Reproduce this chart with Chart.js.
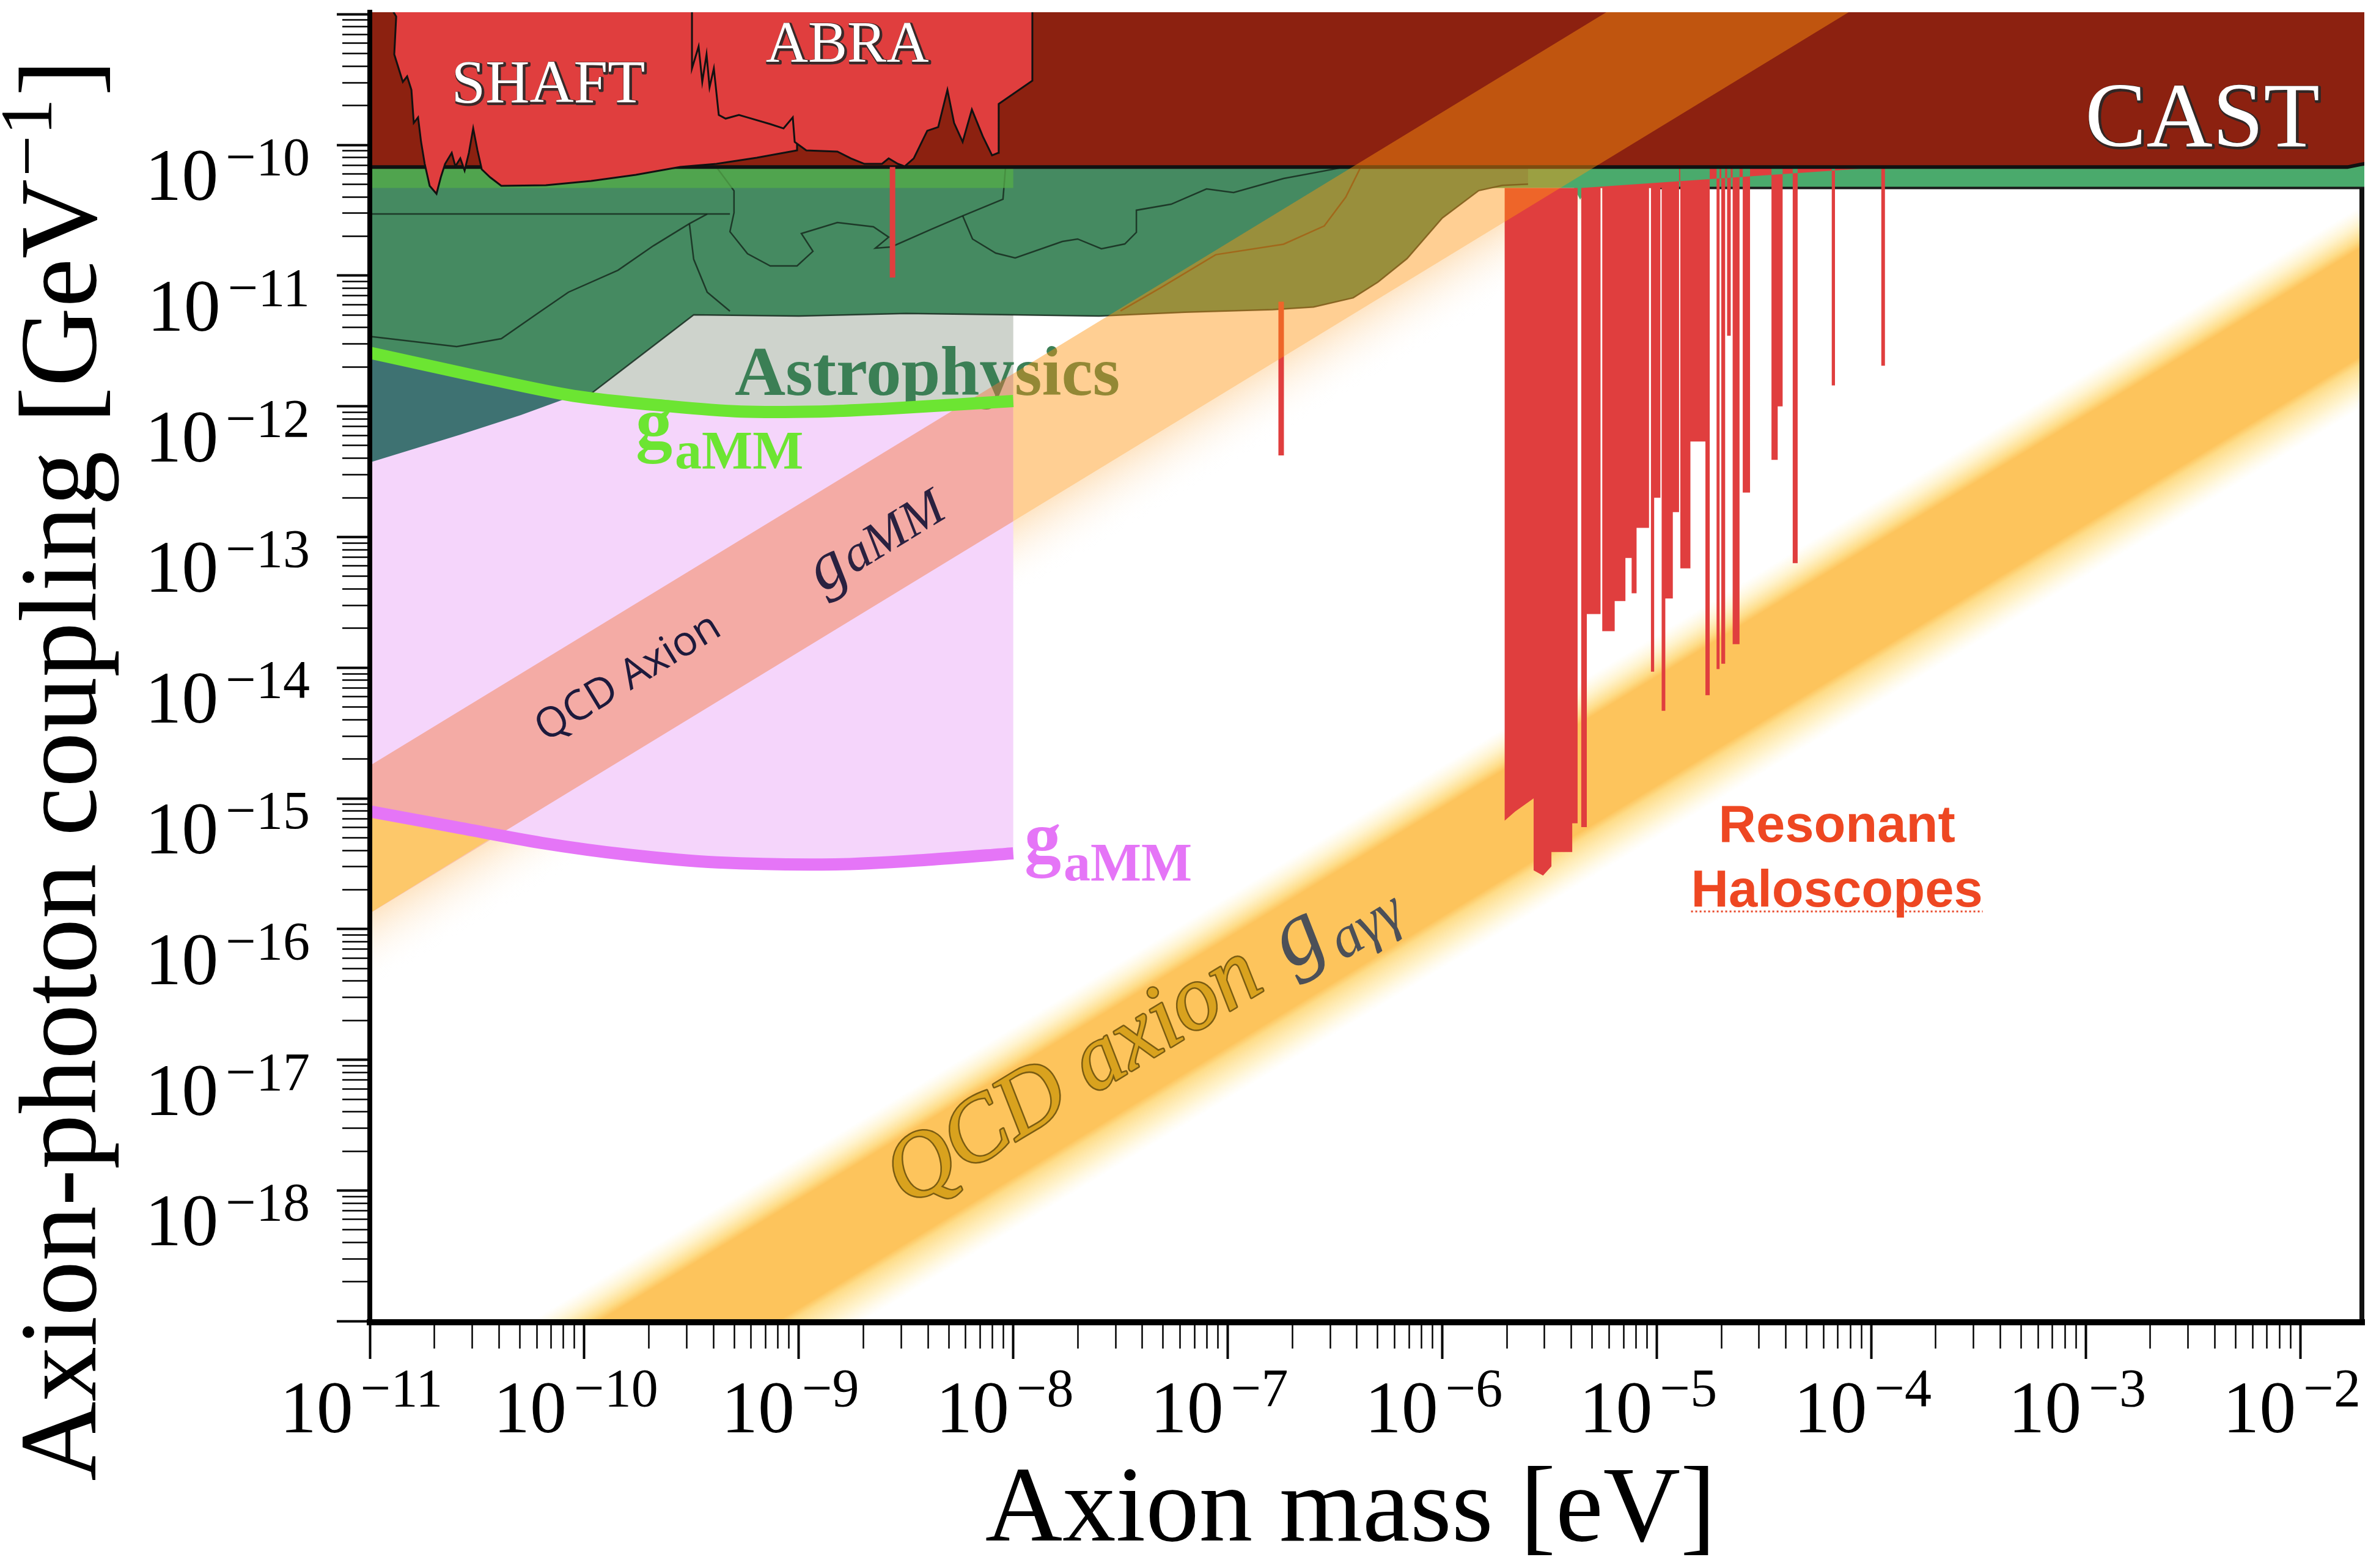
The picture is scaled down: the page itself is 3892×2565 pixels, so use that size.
<!DOCTYPE html>
<html>
<head>
<meta charset="utf-8">
<script src="https://cdn.jsdelivr.net/npm/chart.js@4/dist/chart.umd.min.js"></script>
<style>
  html, body { margin: 0; padding: 0; background: #fff; }
  #wrap { width: 3892px; height: 2565px; }
</style>
</head>
<body>
<div id="wrap"><canvas id="axionPlot"></canvas></div>
<script>
// every value below is log10 (mass in eV, coupling in GeV^-1)

const massRange = [-11, -1.701]
const couplingRange = [-19.008, -8.985]
const massTickExponents = [-11, -10, -9, -8, -7, -6, -5, -4, -3, -2]
const couplingTickExponents = [-10, -11, -12, -13, -14, -15, -16, -17, -18]

const castLimit = -10.17
const stripLimit = -10.33

// QCD axion bands, log10(g / m)
const goldBandRatios = [-8.75, -9.07, -9.90, -10.30]
const amBandRatios = [-3.75, -4.88, -5.45]

const greenLine = [[-11, -11.59], [-10.5, -11.77], [-10.05, -11.92], [-9.6, -12.0], [-9.27, -12.04], [-8.9, -12.04], [-8.61, -12.02], [-8.3, -11.99], [-8, -11.96]]
const magentaLine = [[-11, -15.10], [-10.6, -15.22], [-10.2, -15.34], [-9.8, -15.43], [-9.38, -15.49], [-8.83, -15.505], [-8.4, -15.47], [-8, -15.42]]

const tealEdge = [[-10.05, -11.92], [-10.296, -12.067], [-10.578, -12.217], [-11, -12.43], [-11.2, -12.53]]
const greyArea = [[-9.99, -11.94], [-9.49, -11.30], [-8, -11.29], [-8, -12.0], [-8.61, -12.05], [-9.27, -12.07], [-9.6, -12.03]]
// part of the g_aMM band left under the magenta curve
const goldCorner = [[-11.2, -15.06], [-11, -15.10], [-10.6, -15.22], [-10.42, -15.29], [-11.2, -16.08]]

const astroEdge = [[-11.2, -11.52], [-11, -11.59], [-10.5, -11.77], [-10.05, -11.92], [-9.99, -11.93], [-9.49, -11.30], [-9.0, -11.31], [-8.5, -11.29], [-8.0, -11.30], [-7.6, -11.31], [-7.2, -11.28], [-6.79, -11.26], [-6.6, -11.24], [-6.415, -11.17], [-6.3, -11.05], [-6.164, -10.87], [-6.0, -10.56], [-5.83, -10.35], [-5.72, -10.31], [-5.6, -10.30]]

const contourA = [[-11.2, -10.529], [-9.321, -10.529]]
const contourB = [[-9.384, -10.17], [-9.302, -10.351], [-9.302, -10.519], [-9.321, -10.664], [-9.239, -10.833], [-9.133, -10.926], [-9.008, -10.926], [-8.934, -10.814], [-8.988, -10.678], [-8.820, -10.594], [-8.652, -10.627], [-8.581, -10.706], [-8.643, -10.790], [-8.569, -10.781], [-8.381, -10.645], [-8.236, -10.543], [-8.048, -10.416], [-8.036, -10.17]]
const contourC = [[-11.2, -11.43], [-10.983, -11.469], [-10.595, -11.543], [-10.387, -11.483], [-10.219, -11.291], [-10.074, -11.127], [-9.843, -10.959], [-9.678, -10.772], [-9.510, -10.603], [-9.427, -10.529]]
const contourD = [[-9.510, -10.603], [-9.490, -10.875], [-9.427, -11.127], [-9.321, -11.272]]
const contourE = [[-8.236, -10.543], [-8.19, -10.72], [-8.082, -10.828], [-7.991, -10.865], [-7.771, -10.739], [-7.700, -10.720], [-7.589, -10.795], [-7.480, -10.758], [-7.426, -10.669], [-7.426, -10.500], [-7.264, -10.454], [-7.099, -10.337], [-6.973, -10.365], [-6.740, -10.257], [-6.455, -10.17]]
const contourF = [[-7.5, -11.27], [-7.31, -11.09], [-7.056, -10.84], [-6.74, -10.76], [-6.55, -10.62], [-6.45, -10.40], [-6.38, -10.17]]

const shaftEdge = [[-10.889, -8.9], [-10.889, -8.985], [-10.877, -9.018], [-10.886, -9.308], [-10.846, -9.518], [-10.826, -9.476], [-10.806, -9.579], [-10.795, -9.832], [-10.775, -9.790], [-10.761, -9.977], [-10.744, -10.145], [-10.721, -10.313], [-10.689, -10.374], [-10.669, -10.248], [-10.649, -10.145], [-10.618, -10.061], [-10.601, -10.164], [-10.578, -10.103], [-10.558, -10.196], [-10.538, -10.061], [-10.518, -9.874], [-10.498, -10.042], [-10.478, -10.187], [-10.439, -10.248], [-10.387, -10.313], [-10.179, -10.309], [-9.968, -10.276], [-9.760, -10.229], [-9.552, -10.168], [-9.384, -10.145], [-9.196, -10.098], [-9.008, -10.042], [-9.008, -8.9]]
const abraEdge = [[-9.498, -8.9], [-9.498, -9.415], [-9.467, -9.247], [-9.450, -9.518], [-9.430, -9.308], [-9.416, -9.560], [-9.396, -9.415], [-9.373, -9.771], [-9.341, -9.799], [-9.279, -9.771], [-9.239, -9.790], [-9.133, -9.841], [-9.071, -9.874], [-9.028, -9.790], [-9.019, -9.977], [-8.965, -10.042], [-8.820, -10.051], [-8.757, -10.103], [-8.694, -10.145], [-8.612, -10.145], [-8.581, -10.103], [-8.538, -10.145], [-8.506, -10.164], [-8.464, -10.103], [-8.401, -9.892], [-8.350, -9.864], [-8.307, -9.579], [-8.276, -9.832], [-8.236, -9.977], [-8.193, -9.729], [-8.142, -9.935], [-8.099, -10.080], [-8.070, -10.061], [-8.068, -9.687], [-7.911, -9.509], [-7.911, -8.9]]
const castEdge = [[-11.2, castLimit], [-1.78, castLimit], [-1.72, -10.15], [-1.6, -10.12]]

// resonant haloscopes
const haloMain = [[-5.709, stripLimit], [-5.709, -15.17], [-5.66, -15.1], [-5.574, -15.0], [-5.574, -15.55], [-5.53, -15.59], [-5.491, -15.52], [-5.491, -15.41], [-5.394, -15.41], [-5.394, -15.19], [-5.369, -15.19], [-5.369, stripLimit]]
const haloMassLow = [-5.352, -5.326, -5.254, -5.196, -5.146, -5.117, -5.094, -5.027, -5.012, -4.977, -4.960, -4.925, -4.890, -4.843, -4.773, -4.721, -4.699, -4.672, -4.646, -4.599, -4.465, -4.436, -4.366, -4.184, -3.953]
const haloMassHigh = [-5.326, -5.262, -5.196, -5.146, -5.117, -5.094, -5.036, -5.012, -4.983, -4.960, -4.925, -4.896, -4.843, -4.773, -4.753, -4.707, -4.681, -4.655, -4.614, -4.565, -4.436, -4.413, -4.343, -4.169, -3.936]
const haloDepth = [-15.22, -13.59, -13.72, -13.49, -13.16, -13.43, -12.93, -14.03, -12.70, -14.33, -13.47, -12.81, -13.24, -12.27, -14.21, -14.01, -13.97, -11.46, -13.82, -12.66, -12.41, -12.00, -13.20, -11.84, -11.69]
const spikeA = [[-8.563, castLimit], [-8.563, -11.015]]
const spikeB = [[-6.751, -11.2], [-6.751, -12.376]]

// ---------------------------------------------------------------

const fontSerif = '"Liberation Serif", "Times New Roman", serif'
const fontSans = '"Liberation Sans", Arial, sans-serif'

const pt = ([lm, lg]) => ({ x: 10 ** lm, y: 10 ** lg })

function px(chart, lm, lg) {
  return { x: chart.scales.x.getPixelForValue(10 ** lm), y: chart.scales.y.getPixelForValue(10 ** lg) }
}

function bandGradient(chart, top, bottom, stops) {
  if (!chart.chartArea || !chart.scales.x) return 'rgba(0,0,0,0)'
  const m = -6
  const a = px(chart, m, m + top)
  const b = px(chart, m + 1, m + 1 + top)
  const q = px(chart, m, m + bottom)
  const len = Math.hypot(b.x - a.x, b.y - a.y)
  const nx = -(b.y - a.y) / len
  const ny = (b.x - a.x) / len
  const d = (q.x - a.x) * nx + (q.y - a.y) * ny
  const g = chart.ctx.createLinearGradient(a.x, a.y, a.x + nx * d, a.y + ny * d)
  stops.forEach(([t, c]) => g.addColorStop(t, c))
  return g
}

function area(label, pts, color, extra) {
  return Object.assign({
    label, data: pts.map(pt), showLine: true, fill: 'shape',
    backgroundColor: color, borderColor: 'rgba(0,0,0,0)', borderWidth: 0, pointRadius: 0
  }, extra || {})
}

function curve(label, pts, color, width, extra) {
  return Object.assign({
    label, data: pts.map(pt), showLine: true, fill: false,
    borderColor: color, borderWidth: width, pointRadius: 0
  }, extra || {})
}

// polygons built from the arrays
const r = goldBandRatios
const goldPoly = [[-12, -12 + r[0]], [0, r[0]], [0, r[3]], [-12, -12 + r[3]]]
const tCore1 = (r[0] - r[1]) / (r[0] - r[3])
const tCore2 = (r[0] - r[2]) / (r[0] - r[3])
const a2 = amBandRatios
const amLeft = [[-12, -12 + a2[0]], [-8, -8 + a2[0]], [-8, -8 + a2[1]], [-12, -12 + a2[1]]]
const amRight = [[-8, -8 + a2[0]], [-1, -1 + a2[0]], [-1, -1 + a2[1]], [-8, -8 + a2[1]]]
const amGlow = [[-12, -12 + a2[1]], [-1, -1 + a2[1]], [-1, -1 + a2[2]], [-12, -12 + a2[2]]]

const pinkPoly = [[-11.2, greenLine[0][1]], ...greenLine, ...magentaLine.slice().reverse(), [-11.2, magentaLine[0][1]]]
const tealPoly = [[-11.2, -11.55], ...greenLine.slice(0, 3), ...tealEdge]
const astroPoly = [[-11.2, -10.0], ...astroEdge, [-5.6, -10.0]]
const rightStrip = [[-5.9, -10.0], [-1.6, -10.0], [-1.6, stripLimit], [-5.33, stripLimit], [-5.357, -10.42], [-5.385, stripLimit], [-5.9, stripLimit]]
const leftStrip = [[-11.2, -10.0], [-8, -10.0], [-8, stripLimit], [-11.2, stripLimit]]
const castPoly = [[-11.2, -8.9], ...castEdge, [-1.6, -8.9]]

let combPoly = []
for (let i = 0; i < haloMassLow.length; i++) {
  const top = haloMassLow[i] > -4.95 ? castLimit : stripLimit
  combPoly.push([haloMassLow[i], top], [haloMassLow[i], haloDepth[i]], [haloMassHigh[i], haloDepth[i]], [haloMassHigh[i], top])
}

const red = '#e03e3e'
const contourColor = 'rgba(22,42,30,0.85)'

// bottom first
const layers = [
  area('goldBand', goldPoly, (c) => bandGradient(c.chart, r[0], r[3], [
    [0, 'rgba(255,246,214,0)'], [0.09, 'rgba(255,241,196,0.85)'], [tCore1 - 0.04, 'rgba(254,220,135,1)'],
    [tCore1, '#fdc45c'], [tCore2, '#fdc45c'], [tCore2 + 0.04, 'rgba(254,220,135,1)'],
    [0.9, 'rgba(255,241,196,0.85)'], [1, 'rgba(255,246,214,0)']])),
  area('amGlow', amGlow, (c) => bandGradient(c.chart, a2[1], a2[2], [[0, 'rgba(253,212,160,0.6)'], [1, 'rgba(255,255,255,0)']])),
  area('pink', pinkPoly, '#f5d5fb'),
  area('grey', greyArea, '#ced3cc'),
  area('teal', tealPoly, '#3e7272'),
  area('rightStrip', rightStrip, '#4aaa6c'),
  curve('stripEdge', [[-5.0, stripLimit], [-1.6, stripLimit]], '#1a1a1a', 4),
  area('haloComb', combPoly, red),
  area('haloMain', haloMain, red),
  area('astro', astroPoly, '#458a61'),
  curve('astroEdge', astroEdge.slice(4), contourColor, 2.5),
  curve('contourA', contourA, contourColor, 2.5),
  curve('contourB', contourB, contourColor, 2.5),
  curve('contourC', contourC, contourColor, 2.5),
  curve('contourD', contourD, contourColor, 2.5),
  curve('contourE', contourE, contourColor, 2.5),
  curve('contourF', contourF, 'rgba(90,50,20,0.8)', 2.5),
  area('leftStrip', leftStrip, 'rgba(84,172,72,0.75)'),
  area('cast', castPoly, '#8c2110'),
  curve('castEdge', castEdge, '#111', 6),
  area('shaft', shaftEdge, red, { borderColor: '#111', borderWidth: 3 }),
  area('abra', abraEdge, red, { borderColor: '#111', borderWidth: 3 }),
  curve('spikeA', spikeA, red, 9),
  curve('spikeB', spikeB, red, 9),
  area('amBandLeft', amLeft, 'rgba(245,120,60,0.45)'),
  area('amBandRight', amRight, 'rgba(255,148,16,0.45)'),
  area('goldCorner', goldCorner, '#fdc86a'),
  curve('gammGreen', greenLine, '#6ce532', 20, { tension: 0.3, borderCapStyle: 'butt' }),
  curve('gammPink', magentaLine, '#e575f7', 20, { tension: 0.3, borderCapStyle: 'butt' })
]

function ticksFor(lo, hi) {
  let out = []
  for (let k = Math.floor(lo); k <= Math.ceil(hi); k++) {
    for (let j = 1; j <= 9; j++) {
      const v = j * 10 ** k
      if (Math.log10(v) >= lo - 1e-9 && Math.log10(v) <= hi + 1e-9) out.push({ value: v, major: j === 1 })
    }
  }
  return out
}

// text helpers
function drawPieces(c, pieces, x, y, align) {
  let total = 0
  const widths = pieces.map(([t, f, dy, gap]) => {
    c.font = f
    const w = c.measureText(t).width + (gap || 0)
    total += w
    return w
  })
  let cx = align === 'center' ? x - total / 2 : align === 'right' ? x - total : x
  c.textAlign = 'left'
  c.textBaseline = 'alphabetic'
  pieces.forEach(([t, f, dy], i) => {
    c.font = f
    c.fillText(t, cx, y + (dy || 0))
    cx += widths[i]
  })
}

function embossed(c, text, font, x, y) {
  c.font = font
  c.textAlign = 'center'
  c.textBaseline = 'middle'
  c.lineJoin = 'round'
  c.strokeStyle = 'rgba(40,40,40,0.9)'
  c.lineWidth = 5
  c.strokeText(text, x + 2, y + 2)
  c.fillStyle = '#fff'
  c.fillText(text, x, y)
}

function drawAstroLabel(chart) {
  const c = chart.ctx
  const p = px(chart, -9.299, -11.913)
  c.save()
  c.fillStyle = '#3b7f55'
  c.font = `bold 115px ${fontSerif}`
  c.textAlign = 'left'
  c.textBaseline = 'alphabetic'
  c.fillText('Astrophysics', p.x, p.y)
  c.restore()
}

const annotations = {
  id: 'annotations',
  afterDatasetDraw(chart, args) {
    if (chart.data.datasets[args.index].label === 'spikeB') drawAstroLabel(chart)
  },
  afterDatasetsDraw(chart) {
    const c = chart.ctx
    const ca = chart.chartArea
    const ang = Math.atan2(px(chart, -9, -14).y - px(chart, -10, -15).y, px(chart, -9, -14).x - px(chart, -10, -15).x)
    c.save()

    // right frame line
    c.strokeStyle = '#111'
    c.lineWidth = 8
    c.beginPath()
    c.moveTo(ca.right - 4, px(chart, -2, stripLimit).y)
    c.lineTo(ca.right - 4, ca.bottom)
    c.stroke()

    let p = px(chart, -10.168, -9.551)
    embossed(c, 'SHAFT', `100px ${fontSerif}`, p.x, p.y)
    p = px(chart, -8.774, -9.247)
    embossed(c, 'ABRA', `96px ${fontSerif}`, p.x, p.y)
    p = px(chart, -2.456, -9.827)
    embossed(c, 'CAST', `150px ${fontSerif}`, p.x, p.y)

    // g_aMM labels
    c.fillStyle = '#6ce532'
    p = px(chart, -9.760, -12.315)
    drawPieces(c, [['g', `bold 120px ${fontSerif}`, 0, 4], ['aMM', `bold 88px ${fontSerif}`, 34]], p.x, p.y, 'left')
    c.fillStyle = '#e575f7'
    p = px(chart, -7.948, -15.486)
    drawPieces(c, [['g', `bold 120px ${fontSerif}`, 0, 4], ['aMM', `bold 88px ${fontSerif}`, 30]], p.x, p.y, 'left')

    // rotated labels along the bands
    const rotated = (lm, lg, fn) => {
      const q = px(chart, lm, lg)
      c.save()
      c.translate(q.x, q.y)
      c.rotate(ang)
      fn()
      c.restore()
    }
    rotated(-9.795, -14.079, () => {
      c.fillStyle = '#1d1a3c'
      c.font = `68px "Open Sans", ${fontSans}`
      c.textAlign = 'center'
      c.textBaseline = 'middle'
      c.fillText('QCD Axion', 0, 0)
    })
    rotated(-8.632, -13.035, () => {
      c.fillStyle = '#2a2140'
      drawPieces(c, [['g', `italic 110px ${fontSerif}`, 0, 4], ['aMM', `italic 84px ${fontSerif}`, 0]], 0, 25, 'center')
    })
    rotated(-7.714, -17.133, () => {
      c.font = `italic 150px ${fontSerif}`
      c.textAlign = 'center'
      c.textBaseline = 'middle'
      c.lineJoin = 'round'
      c.strokeStyle = '#7a5c12'
      c.lineWidth = 5
      c.strokeText('QCD axion', 0, 0)
      c.fillStyle = '#d9a21e'
      c.fillText('QCD axion', 0, 0)
    })
    rotated(-6.50, -15.95, () => {
      c.fillStyle = '#4c5058'
      drawPieces(c, [['g', `italic 150px ${fontSerif}`, 0, 6], ['aγγ', `italic 96px ${fontSerif}`, 30]], 0, 30, 'center')
    })

    // Resonant Haloscopes
    c.fillStyle = '#ee4722'
    c.font = `bold 85px ${fontSans}`
    c.textAlign = 'center'
    c.textBaseline = 'alphabetic'
    p = px(chart, -4.160, -15.332)
    c.fillText('Resonant', p.x, p.y)
    const q = px(chart, -4.160, -15.828)
    c.fillText('Haloscopes', q.x, q.y)
    const w = c.measureText('Haloscopes').width
    c.strokeStyle = '#e8492a'
    c.lineWidth = 3
    c.setLineDash([3, 4])
    c.beginPath()
    c.moveTo(q.x - w / 2, q.y + 8)
    c.lineTo(q.x + w / 2, q.y + 8)
    c.stroke()
    c.restore()
  },
  afterDraw(chart) {
    const c = chart.ctx
    const ca = chart.chartArea
    const { x, y } = chart.scales
    c.save()
    c.fillStyle = '#000'
    massTickExponents.forEach((e) => {
      const p = x.getPixelForValue(10 ** e)
      drawPieces(c, [['10', `120px ${fontSerif}`, 0, 12], ['−' + (-e), `88px ${fontSerif}`, -43]], p - 14, ca.bottom + 180, 'center')
    })
    couplingTickExponents.forEach((e) => {
      const p = y.getPixelForValue(10 ** e)
      drawPieces(c, [['10', `120px ${fontSerif}`, 0, 12], ['−' + (-e), `88px ${fontSerif}`, -41]], ca.left - 98, p + 90, 'right')
    })

    c.font = `175px ${fontSerif}`
    c.textAlign = 'center'
    c.textBaseline = 'alphabetic'
    c.fillText('Axion mass [eV]', (ca.left + ca.right) / 2 - 27, ca.bottom + 357)

    c.translate(ca.left - 449, ca.top + 1240)
    c.rotate(-Math.PI / 2)
    drawPieces(c, [
      ['Axion-photon coupling [GeV', `180px ${fontSerif}`, 0, 4],
      ['−1', `120px ${fontSerif}`, -72, 4],
      [']', `180px ${fontSerif}`, 0]
    ], 0, 0, 'center')
    c.restore()
  }
}

Chart.defaults.font.family = fontSerif

const ctx = document.getElementById('axionPlot')

new Chart(ctx, {
  type: 'scatter',
  data: { datasets: layers.slice().reverse() },
  options: {
    responsive: true,
    maintainAspectRatio: false,
    devicePixelRatio: 1,
    animation: false,
    events: [],
    layout: { padding: { left: 0, right: 24, top: 20, bottom: 0 } },
    elements: { point: { radius: 0 } },
    plugins: {
      legend: { display: false },
      tooltip: { enabled: false },
      filler: { drawTime: 'beforeDatasetDraw' }
    },
    scales: {
      x: {
        type: 'logarithmic',
        bounds: 'data',
        min: 10 ** massRange[0],
        max: 10 ** massRange[1],
        afterBuildTicks: (s) => { s.ticks = ticksFor(massRange[0], massRange[1]) },
        afterFit: (s) => { s.height = 402 },
        ticks: { display: false, callback: () => '', maxTicksLimit: 1000 },
        grid: {
          drawOnChartArea: false,
          drawTicks: true,
          tickLength: 60,
          tickColor: '#000',
          tickWidth: (c) => (c.tick && c.tick.major ? 4 : 2.5),
          tickBorderDash: (c) => (c.tick && c.tick.major ? [] : [38, 300])
        },
        border: { display: true, color: '#000', width: 10, z: 1 }
      },
      y: {
        type: 'logarithmic',
        bounds: 'data',
        min: 10 ** couplingRange[0],
        max: 10 ** couplingRange[1],
        afterBuildTicks: (s) => { s.ticks = ticksFor(couplingRange[0], couplingRange[1]) },
        afterFit: (s) => { s.width = 605 },
        ticks: { display: false, callback: () => '', maxTicksLimit: 1000 },
        grid: {
          drawOnChartArea: false,
          drawTicks: true,
          tickLength: 54,
          tickColor: '#000',
          tickWidth: (c) => (c.tick && c.tick.major ? 4 : 2.5),
          tickBorderDash: (c) => (c.tick && c.tick.major ? [] : [0, 9, 41, 300])
        },
        border: { display: true, color: '#000', width: 8, z: 1 }
      }
    }
  },
  plugins: [annotations]
})
</script>
</body>
</html>
